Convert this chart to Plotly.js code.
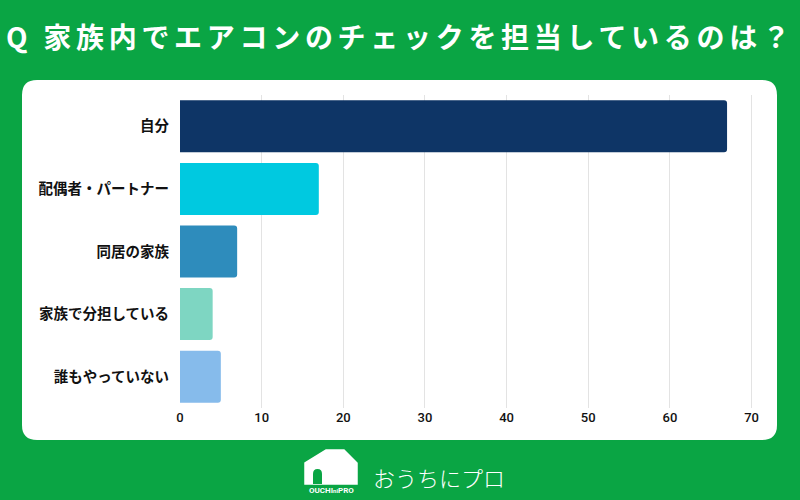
<!DOCTYPE html>
<html>
<head>
<meta charset="utf-8">
<script src="https://cdn.plot.ly/plotly-3.0.1.min.js"></script>
<style>
html,body{margin:0;padding:0;background:#0aa544;}
#chart{width:800px;height:500px;}
.gtitle{letter-spacing:4.7px;}
</style>
</head>
<body>
<div id="chart"></div>
<script>
const categories = ["自分", "配偶者・パートナー", "同居の家族", "家族で分担している", "誰もやっていない"];
const values = [67, 17, 7, 4, 5];
const barColors = ["#0e3566", "#00c9e0", "#2e8cbc", "#7ed6c2", "#86bbeb"];
const xTicks = [0, 10, 20, 30, 40, 50, 60, 70];

const L = 180, R = 754, T = 95, B = 408;
const px = x => (x - L) / (R - L);
const py = y => (B - y) / (B - T);
function rrect(x0, y0, x1, y1, r) {
  return `M${px(x0 + r)},${py(y0)} L${px(x1 - r)},${py(y0)} Q${px(x1)},${py(y0)} ${px(x1)},${py(y0 + r)} ` +
    `L${px(x1)},${py(y1 - r)} Q${px(x1)},${py(y1)} ${px(x1 - r)},${py(y1)} ` +
    `L${px(x0 + r)},${py(y1)} Q${px(x0)},${py(y1)} ${px(x0)},${py(y1 - r)} ` +
    `L${px(x0)},${py(y0 + r)} Q${px(x0)},${py(y0)} ${px(x0 + r)},${py(y0)} Z`;
}
function poly(pts) {
  return 'M' + pts.map(p => `${px(p[0])},${py(p[1])}`).join(' L') + ' Z';
}
const house = poly([[305, 484], [305, 463], [326, 450], [344, 450], [357, 463], [357, 484]]);
const door = `M${px(313)},${py(484)} L${px(313)},${py(474)} Q${px(313)},${py(469)} ${px(317.5)},${py(469)} Q${px(322)},${py(469)} ${px(322)},${py(474)} L${px(322)},${py(484)} Z`;

const trace = {
  type: 'bar',
  orientation: 'h',
  y: categories,
  x: values,
  marker: {color: barColors, cornerradius: 3},
  width: 0.83,
  hoverinfo: 'x+y'
};

const layout = {
  width: 800, height: 500,
  margin: {l: L, r: 800 - R, t: T, b: 500 - B, pad: 0},
  paper_bgcolor: '#0aa544',
  plot_bgcolor: 'rgba(0,0,0,0)',
  showlegend: false,
  title: {
    text: 'Q 家族内でエアコンのチェックを担当しているのは？',
    x: 6 / 800, xanchor: 'left', xref: 'container',
    y: 1 - 38 / 500, yanchor: 'middle', yref: 'container',
    font: {family: '"Noto Sans CJK JP", sans-serif', size: 28, color: '#ffffff', weight: 'bold'}
  },
  xaxis: {
    range: [0, 70.3],
    tickvals: xTicks,
    ticktext: xTicks.map(String),
    showgrid: true, gridcolor: '#e3e3e3', gridwidth: 1,
    zeroline: false, showline: false, ticks: '',
    tickfont: {family: 'Roboto, "Noto Sans", sans-serif', size: 13, color: '#111111', weight: 500},
    fixedrange: true
  },
  yaxis: {
    autorange: 'reversed',
    showgrid: false, zeroline: false, showline: false, ticks: '',
    ticklabelstandoff: 10,
    tickfont: {family: '"Noto Sans CJK JP", sans-serif', size: 14.5, color: '#111111', weight: 'bold'},
    fixedrange: true
  },
  shapes: [
    {type: 'path', xref: 'paper', yref: 'paper', path: rrect(22, 80, 777, 440, 15),
      fillcolor: '#ffffff', line: {width: 0}, layer: 'below'},
    {type: 'path', xref: 'paper', yref: 'paper', path: house,
      fillcolor: '#ffffff', line: {width: 1.5, color: '#ffffff'}, layer: 'above'},
    {type: 'path', xref: 'paper', yref: 'paper', path: door,
      fillcolor: '#0aa544', line: {width: 0}, layer: 'above'}
  ],
  annotations: [
    {text: 'おうちにプロ', xref: 'paper', yref: 'paper', x: px(371), y: py(477),
      xanchor: 'left', yanchor: 'middle', showarrow: false,
      font: {family: '"Noto Sans CJK JP", sans-serif', size: 22, color: '#ffffff', weight: 300}},
    {text: 'OUCHI<span style="font-size:6px">ni</span>PRO', xref: 'paper', yref: 'paper', x: px(331), y: py(490),
      xanchor: 'center', yanchor: 'middle', showarrow: false,
      font: {family: 'Roboto, sans-serif', size: 8, color: '#ffffff', weight: 'bold'}}
  ]
};

Plotly.newPlot('chart', [trace], layout, {displayModeBar: false, staticPlot: true});
</script>
</body>
</html>
